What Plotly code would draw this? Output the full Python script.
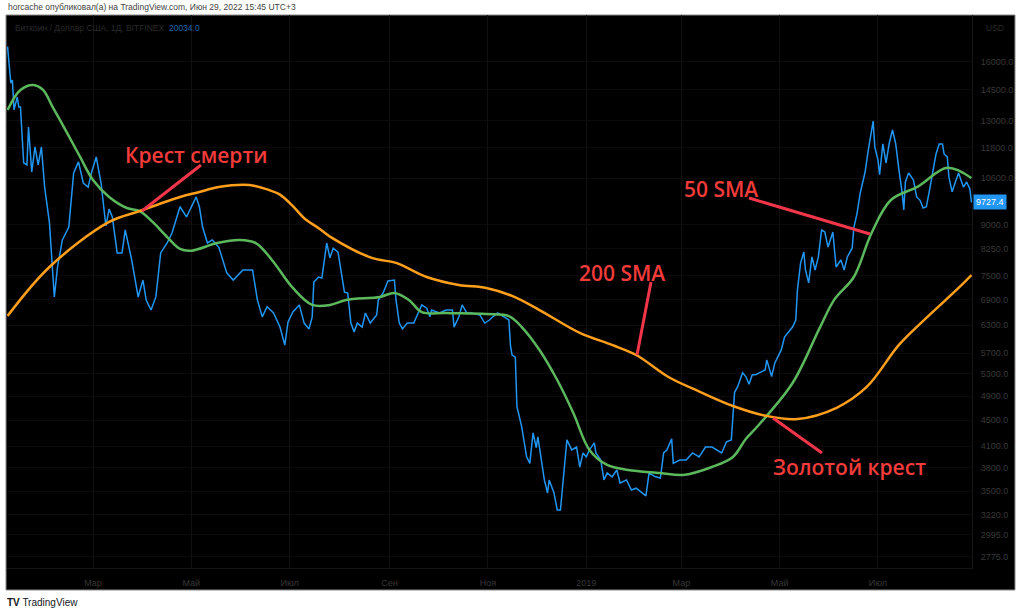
import numpy as np
import plotly.graph_objects as go

# BTC/USD daily close (Bitfinex)
price_dates = [
    "2018-01-07", "2018-01-09", "2018-01-10", "2018-01-11", "2018-01-13", "2018-01-14", "2018-01-15",
    "2018-01-17", "2018-01-19", "2018-01-20", "2018-01-22", "2018-01-24", "2018-01-26", "2018-01-28",
    "2018-01-30", "2018-02-02", "2018-02-05", "2018-02-07", "2018-02-10", "2018-02-14", "2018-02-17",
    "2018-02-20", "2018-02-23", "2018-02-26", "2018-02-28", "2018-03-03", "2018-03-06", "2018-03-09",
    "2018-03-11", "2018-03-13", "2018-03-16", "2018-03-19", "2018-03-21", "2018-03-25", "2018-03-29",
    "2018-04-01", "2018-04-03", "2018-04-06", "2018-04-09", "2018-04-12", "2018-04-16", "2018-04-19",
    "2018-04-24", "2018-04-28", "2018-05-04", "2018-05-06", "2018-05-08", "2018-05-11", "2018-05-14",
    "2018-05-18", "2018-05-23", "2018-05-27", "2018-06-02", "2018-06-08", "2018-06-11", "2018-06-14",
    "2018-06-17", "2018-06-21", "2018-06-25", "2018-06-28", "2018-06-30", "2018-07-03", "2018-07-07",
    "2018-07-10", "2018-07-13", "2018-07-15", "2018-07-16", "2018-07-19", "2018-07-21", "2018-07-24",
    "2018-07-26", "2018-07-28", "2018-07-31", "2018-08-02", "2018-08-04", "2018-08-06", "2018-08-08",
    "2018-08-10", "2018-08-12", "2018-08-15", "2018-08-17", "2018-08-20", "2018-08-24", "2018-08-25",
    "2018-08-28", "2018-08-31", "2018-09-04", "2018-09-05", "2018-09-07", "2018-09-09", "2018-09-12",
    "2018-09-16", "2018-09-19", "2018-09-21", "2018-09-24", "2018-09-26", "2018-09-27", "2018-10-02",
    "2018-10-06", "2018-10-10", "2018-10-11", "2018-10-14", "2018-10-16", "2018-10-19", "2018-10-22",
    "2018-10-27", "2018-10-30", "2018-11-02", "2018-11-04", "2018-11-07", "2018-11-12", "2018-11-14",
    "2018-11-15", "2018-11-16", "2018-11-18", "2018-11-19", "2018-11-20", "2018-11-22", "2018-11-25",
    "2018-11-27", "2018-11-29", "2018-12-01", "2018-12-02", "2018-12-04", "2018-12-06", "2018-12-08",
    "2018-12-09", "2018-12-12", "2018-12-14", "2018-12-16", "2018-12-18", "2018-12-20", "2018-12-23",
    "2018-12-26", "2018-12-28", "2018-12-30", "2019-01-01", "2019-01-03", "2019-01-06", "2019-01-07",
    "2019-01-10", "2019-01-12", "2019-01-14", "2019-01-17", "2019-01-20", "2019-01-22", "2019-01-26",
    "2019-01-29", "2019-02-01", "2019-02-04", "2019-02-07", "2019-02-09", "2019-02-13", "2019-02-16",
    "2019-02-18", "2019-02-20", "2019-02-23", "2019-02-24", "2019-02-28", "2019-03-04", "2019-03-08",
    "2019-03-12", "2019-03-16", "2019-03-20", "2019-03-23", "2019-03-26", "2019-03-29", "2019-04-01",
    "2019-04-03", "2019-04-05", "2019-04-08", "2019-04-10", "2019-04-12", "2019-04-14", "2019-04-16",
    "2019-04-20", "2019-04-22", "2019-04-23", "2019-04-26", "2019-04-28", "2019-04-30", "2019-05-02",
    "2019-05-04", "2019-05-06", "2019-05-09", "2019-05-11", "2019-05-12", "2019-05-14", "2019-05-16",
    "2019-05-17", "2019-05-19", "2019-05-21", "2019-05-23", "2019-05-25", "2019-05-27", "2019-05-29",
    "2019-05-31", "2019-06-03", "2019-06-05", "2019-06-08", "2019-06-10", "2019-06-12", "2019-06-15",
    "2019-06-16", "2019-06-18", "2019-06-20", "2019-06-23", "2019-06-25", "2019-06-28", "2019-06-29",
    "2019-07-01", "2019-07-02", "2019-07-04", "2019-07-06", "2019-07-08", "2019-07-10", "2019-07-12",
    "2019-07-14", "2019-07-16", "2019-07-17", "2019-07-18", "2019-07-20", "2019-07-23", "2019-07-25",
    "2019-07-27", "2019-07-29", "2019-07-31", "2019-08-02", "2019-08-04", "2019-08-06", "2019-08-08",
    "2019-08-10", "2019-08-11", "2019-08-13", "2019-08-14", "2019-08-16", "2019-08-18", "2019-08-20",
    "2019-08-23", "2019-08-25", "2019-08-27", "2019-08-28",
]
price_values = [
    16900, 14850, 15010, 13500, 14130, 13640, 13640,
    11190, 11110, 12710, 10840, 11840, 11110, 11840,
    10270, 9045, 6960, 7740, 8517, 8915, 10800,
    11230, 10420, 10270, 10800, 11430, 10420, 8950,
    9500, 9240, 8135, 8135, 8824, 7935, 6960,
    7390, 6883, 6645, 6960, 8135, 8426, 8730,
    9580, 9240, 9920, 9580, 8915, 8426, 8517,
    8306, 7580, 7390, 7658, 7658, 6883, 6487,
    6722, 6575, 6256, 5870, 6370, 6600, 6766,
    6345, 6215, 6487, 7340, 7470, 7445, 8426,
    7995, 8270, 8160, 7580, 7080, 7060, 6345,
    6150, 6345, 6256, 6575, 6345, 6530, 6883,
    7060, 7365, 7390, 6883, 6345, 6215, 6345,
    6345, 6575, 6766, 6690, 6487, 6645, 6575,
    6645, 6645, 6256, 6487, 6766, 6575, 6575,
    6530, 6345, 6414, 6487, 6575, 6465, 6414,
    5850, 5666, 5625, 4720, 4610, 4390, 3950,
    3860, 4300, 4080, 4240, 3906, 3640, 3475,
    3640, 3475, 3272, 3272, 3730, 4194, 4048,
    4090, 3810, 4005, 3950, 4048, 4150, 4005,
    3906, 3640, 3730, 3680, 3770, 3600, 3640,
    3512, 3535, 3490, 3440, 3730, 3680, 3665,
    4005, 4048, 4210, 3860, 3906, 3906, 4005,
    3950, 4090, 4090, 4048, 4005, 4165, 4194,
    4960, 5070, 5320, 5250, 5110, 5285, 5285,
    5340, 5375, 5570, 5250, 5510, 5625, 5770,
    6040, 6120, 6256, 6414, 7130, 7850, 8160,
    7658, 7315, 8020, 7658, 8020, 8824, 8760,
    8306, 8760, 7740, 7935, 7658, 8020, 8280,
    8890, 9360, 10060, 10835, 11715, 12980, 11840,
    11300, 10730, 11970, 11190, 12010, 12575, 11970,
    10910, 10060, 9470, 10460, 10800, 10530, 9920,
    9810, 9540, 9580, 10170, 10910, 11550, 11970,
    11970, 11550, 11430, 10640, 10100, 10460, 10800,
    10270, 10460, 10200, 9727.4,
]

sma50_dates = [
    "2018-01-07", "2018-01-15", "2018-01-23", "2018-01-29", "2018-02-04", "2018-02-13", "2018-02-21",
    "2018-03-01", "2018-03-11", "2018-03-22", "2018-03-30", "2018-04-07", "2018-04-16", "2018-04-24",
    "2018-05-01", "2018-05-17", "2018-05-31", "2018-06-10", "2018-06-20", "2018-07-03", "2018-07-15",
    "2018-07-26", "2018-08-05", "2018-08-26", "2018-09-04", "2018-09-13", "2018-09-21", "2018-10-06",
    "2018-10-31", "2018-11-14", "2018-11-22", "2018-12-03", "2018-12-14", "2018-12-24", "2019-01-03",
    "2019-01-14", "2019-01-27", "2019-02-16", "2019-03-02", "2019-03-20", "2019-04-02", "2019-04-10",
    "2019-04-18", "2019-05-09", "2019-05-26", "2019-06-04", "2019-06-16", "2019-06-27", "2019-07-09",
    "2019-07-26", "2019-08-13", "2019-08-28",
]
sma50_values = [
    13500, 14490, 14750, 14490, 13640, 12440, 11430,
    10530, 9918, 9538, 9437, 9078, 8606, 8250,
    8200, 8425, 8518, 8425, 7935, 7185, 6766,
    6766, 6887, 6961, 7060, 6887, 6598, 6575,
    6552, 6505, 6256, 5768, 5186, 4614, 4048,
    3838, 3771, 3731, 3704, 3811, 3949, 4209,
    4422, 5131, 6250, 6900, 7470, 8730, 9813,
    10300, 11000, 10606,
]

sma200_dates = [
    "2018-01-07", "2018-02-02", "2018-03-11", "2018-03-30", "2018-04-24", "2018-05-06", "2018-05-18",
    "2018-06-06", "2018-06-18", "2018-06-25", "2018-07-03", "2018-07-10", "2018-07-19", "2018-07-26",
    "2018-08-21", "2018-09-05", "2018-09-24", "2018-10-14", "2018-10-31", "2018-11-16", "2018-12-03",
    "2018-12-28", "2019-01-17", "2019-02-01", "2019-02-21", "2019-03-10", "2019-04-02", "2019-04-23",
    "2019-05-12", "2019-06-05", "2019-06-24", "2019-07-14", "2019-07-31", "2019-08-20", "2019-08-28",
]
sma200_values = [
    6507, 7740, 9078, 9437, 9918, 10094, 10275,
    10348, 10170, 10000, 9600, 9200, 8880, 8620,
    7992, 7852, 7470, 7262, 7185, 6985, 6645,
    6128, 5872, 5666, 5242, 5006, 4730, 4565,
    4517, 4696, 5060, 5872, 6462, 7185, 7522,
]

y_ticks = [16000, 14500, 13000, 11800, 10600, 9000, 8250, 7500, 6900, 6300,
           5700, 5300, 4900, 4500, 4100, 3800, 3500, 3220, 2995, 2775]
y_tick_labels = [f"{v:.1f}" for v in y_ticks]
x_ticks = ["2018-03-01", "2018-05-01", "2018-07-01", "2018-09-01", "2018-11-01",
           "2019-01-01", "2019-03-01", "2019-05-01", "2019-07-01"]
x_tick_labels = ["Мар", "Май", "Июл", "Сен", "Ноя", "2019", "Мар", "Май", "Июл"]

W, H = 1024, 614
L, R, T, B = 7, 52, 15, 46

def px(x, y):
    #screen pixel -> paper coords
    return (x - L) / (W - L - R), (H - B - y) / (H - T - B)

red = "#f23b3b"
axis_grey = "#383838"

fig = go.Figure()
fig.add_trace(go.Scatter(x=price_dates, y=price_values, mode="lines",
                         line=dict(color="#2196f3", width=1.5)))
fig.add_trace(go.Scatter(x=sma50_dates, y=sma50_values, mode="lines",
                         line=dict(color="#5cb85c", width=2.5, shape="spline")))
fig.add_trace(go.Scatter(x=sma200_dates, y=sma200_values, mode="lines",
                         line=dict(color="#ff9f1c", width=2.5, shape="spline")))

shapes = []
#black chart panel with grey frame
bx0, by0 = px(6, 590)
bx1, by1 = px(1015, 15)
shapes.append(dict(type="rect", xref="paper", yref="paper", x0=bx0, y0=by0, x1=bx1, y1=by1,
                   fillcolor="black", line=dict(color="#8a8a8a", width=1), layer="below"))

#red pointer lines
for (x0, y0, x1, y1) in [(201, 165, 142, 211), (749, 198, 870, 234),
                         (651, 282, 637, 355), (773, 418, 822, 453)]:
    a0, b0 = px(x0, y0)
    a1, b1 = px(x1, y1)
    shapes.append(dict(type="line", xref="paper", yref="paper", x0=a0, y0=b0, x1=a1, y1=b1,
                       line=dict(color="#f2364a", width=3)))

annotations = []
for text, (cx, cy) in [("Крест смерти", (196, 155)), ("50 SMA", (721, 189)),
                       ("200 SMA", (622, 273)), ("Золотой крест", (849, 467))]:
    ax_, ay_ = px(cx, cy)
    annotations.append(dict(text=text, xref="paper", yref="paper", x=ax_, y=ay_,
                            xanchor="center", yanchor="middle", showarrow=False,
                            font=dict(family="Open Sans", size=21, color=red, weight=600)))

hx, hy = px(6, 7)
annotations.append(dict(text="horcache опубликовал(а) на TradingView.com, Июн 29, 2022 15:45 UTC+3",
                        xref="paper", yref="paper", x=hx, y=hy, xanchor="left", yanchor="middle",
                        showarrow=False, font=dict(family="Liberation Sans", size=8.5, color="#444444")))
lx, ly = px(13, 28)
annotations.append(dict(text="Биткоин / Доллар США, 1Д, BITFINEX  <span style='color:#1f66ad'>20034.0</span>",
                        xref="paper", yref="paper", x=lx, y=ly, xanchor="left", yanchor="middle",
                        showarrow=False, font=dict(family="Liberation Sans", size=8.5, color="#2b2b2b")))
ux, uy = px(984, 28)
annotations.append(dict(text="USD", xref="paper", yref="paper", x=ux, y=uy, xanchor="left",
                        yanchor="middle", showarrow=False,
                        font=dict(family="Liberation Sans", size=8.5, color="#2b2b2b")))
#last price tag
annotations.append(dict(text=f"{price_values[-1]:.1f}", xref="paper", yref="y", x=1, xshift=1,
                        y=np.log10(price_values[-1]), xanchor="left", yanchor="middle",
                        showarrow=False, bgcolor="#2196f3", borderpad=2,
                        font=dict(family="Liberation Sans", size=9, color="white")))
#footer logo
fx, fy = px(5, 602)
annotations.append(dict(text="<b>TV</b> TradingView", xref="paper", yref="paper", x=fx, y=fy,
                        xanchor="left", yanchor="middle", showarrow=False,
                        font=dict(family="Liberation Sans", size=10, color="#131722")))

fig.update_layout(
    width=W, height=H,
    margin=dict(l=L, r=R, t=T, b=B),
    paper_bgcolor="white",
    plot_bgcolor="black",
    showlegend=False,
    shapes=shapes,
    annotations=annotations,
    xaxis=dict(type="date", range=["2018-01-06 15:36", "2019-08-28 07:40"],
               tickvals=x_ticks, ticktext=x_tick_labels,
               tickfont=dict(family="Liberation Sans", size=9, color=axis_grey),
               showgrid=True, gridcolor="#111111", zeroline=False,
               showline=True, linecolor="#141414", ticklabelstandoff=6),
    yaxis=dict(type="log", side="right", range=[3.4256, 4.2764],
               tickvals=y_ticks, ticktext=y_tick_labels,
               tickfont=dict(family="Liberation Sans", size=9, color=axis_grey),
               showgrid=True, gridcolor="#0b0b0b", zeroline=False,
               showline=True, linecolor="#161616", ticklabelstandoff=6),
)

#the page has a default 8px body margin; drop it so the figure sits at the window origin
fig.write_html("out.html", config={"displayModeBar": False},
               post_script="document.body.style.margin='0';")
